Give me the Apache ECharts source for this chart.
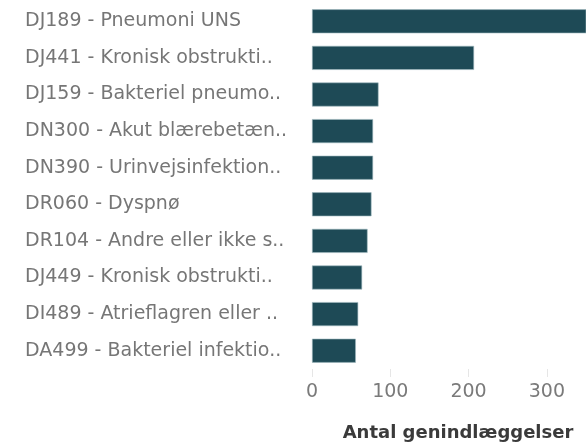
<!DOCTYPE html>
<html>
<head>
<meta charset="utf-8">
<script src="https://cdn.jsdelivr.net/npm/echarts@6/dist/echarts.min.js"></script>
<style>
    html, body { margin: 0; padding: 0; background: #fff; }
    #chart { width: 586px; height: 442px; }
</style>
</head>
<body>
<div id="chart"></div>
<script>
(function () {
    'use strict';

    // diagnoses, top to bottom as shown
    var diagnoser = [
        'DJ189 - Pneumoni UNS',
        'DJ441 - Kronisk obstrukti..',
        'DJ159 - Bakteriel pneumo..',
        'DN300 - Akut blærebetæn..',
        'DN390 - Urinvejsinfektion..',
        'DR060 - Dyspnø',
        'DR104 - Andre eller ikke s..',
        'DJ449 - Kronisk obstrukti..',
        'DI489 - Atrieflagren eller ..',
        'DA499 - Bakteriel infektio..'
    ];
    // readmissions per diagnosis (first bar runs past the visible area)
    var genindlaeggelser = [380, 207, 85, 78, 78, 76, 71, 64, 59, 56];
    var xTicks = [0, 100, 200, 300];

    var myChart = echarts.init(document.getElementById('chart'));
    var font = '"DejaVu Sans", sans-serif';

    var option = {
        animation: false,
        grid: { left: 312, right: 0, top: 3, height: 366, outerBoundsMode: 'none', containLabel: false },
        xAxis: {
            type: 'value',
            min: 0,
            max: 350,
            interval: 100,
            name: 'Antal genindlæggelser',
            nameLocation: 'middle',
            nameGap: 55,
            nameTextStyle: { color: '#3a3a3a', fontSize: 18, fontWeight: 'bold', fontFamily: font, padding: [0, 0, 0, 18] },
            axisLine: { show: false },
            splitLine: { show: false },
            axisTick: { show: true, length: 8, lineStyle: { color: '#e6e6e6' }, customValues: xTicks },
            axisLabel: {
                color: '#7a7a7a', fontSize: 19, fontFamily: font, margin: 14,
                customValues: xTicks
            }
        },
        yAxis: {
            type: 'category',
            inverse: true,
            data: diagnoser,
            axisLine: { show: false },
            axisTick: { show: false },
            axisLabel: {
                color: '#767676', fontSize: 19, fontFamily: font,
                align: 'left', margin: 287,
                width: 284, overflow: 'truncate', ellipsis: '..'
            }
        },
        series: [{
            type: 'bar',
            data: genindlaeggelser,
            barWidth: 24,
            clip: true,
            itemStyle: { color: '#1e4a56', borderColor: '#9fb9c0', borderWidth: 0.6 }
        }]
    };

    myChart.setOption(option);
})();
</script>
</body>
</html>
